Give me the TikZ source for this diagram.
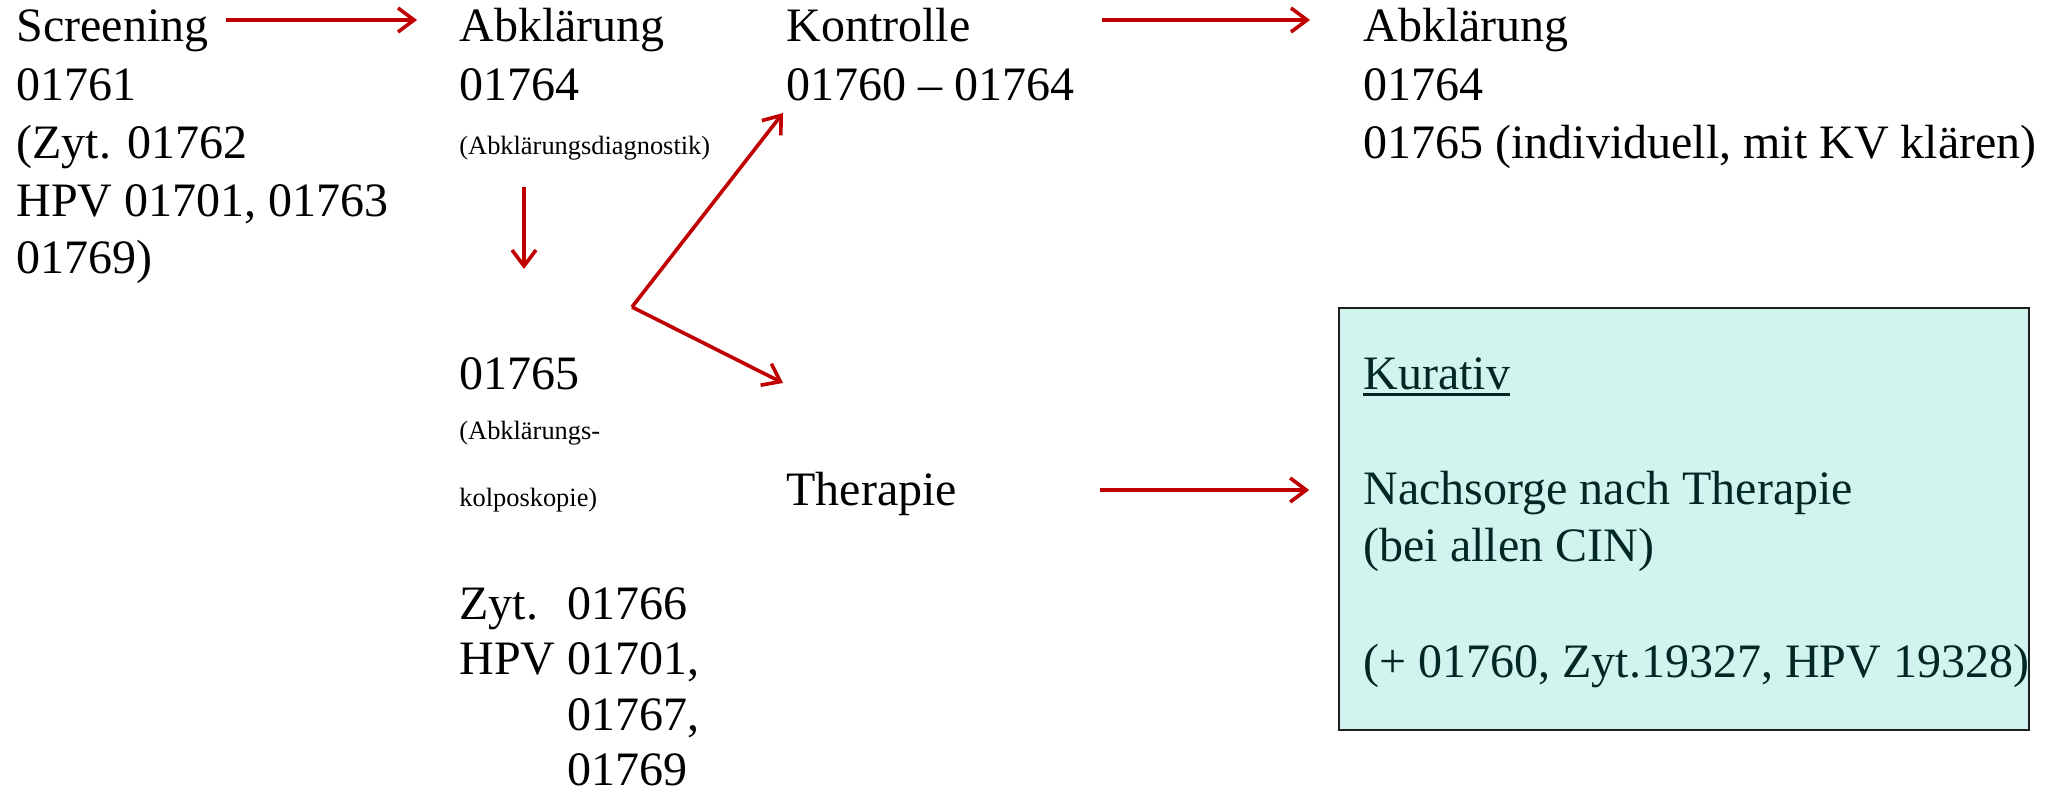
\documentclass[tikz,border=0pt]{standalone}
\usepackage{fontspec}
\setmainfont{Liberation Serif}
\usetikzlibrary{arrows.meta}
\definecolor{arrred}{RGB}{192,0,0}
\definecolor{boxfill}{RGB}{210,244,238}
\definecolor{boxtext}{RGB}{0,40,36}
\definecolor{boxline}{RGB}{30,30,30}
\newcommand{\codecol}[1]{\begin{tabular}[t]{@{}l@{}}#1\end{tabular}}
\newcommand{\kurline}[1]{\setbox0\hbox{#1}\rlap{\rule[-3.5pt]{\wd0}{1.3pt}}\box0}
\tikzset{
  txt/.style={anchor=base west, inner sep=0pt, font=\fontsize{24}{28.8}\selectfont},
  small/.style={anchor=base west, inner sep=0pt, font=\fontsize{13.2}{15.8}\selectfont},
  arr/.style={draw=arrred, line width=1.8pt, -{Straight Barb[length=8pt,width=12pt]}}
}

\begin{document}
\begin{tikzpicture}[x=0.5pt,y=-0.5pt]
\useasboundingbox (0,0) rectangle (2055,792);
% Screening
\node[txt] (scr) at (16,42) {Screening};
\node[txt] (scrc) at (16,101) {\codecol{01761\\(Zyt. 01762\\HPV 01701, 01763\\01769)}};
% Abklaerung
\node[txt] (abk) at (459,42) {Abklärung};
\node[txt] (abkc) at (459,101) {01764};
\node[small] (abkd) at (459,155) {(Abklärungsdiagnostik)};
\node[txt] (kol) at (459,389) {01765};
\node[small] (kold) at (459,439) {(Abklärungs-};
\node[small] (kole) at (459,506) {kolposkopie)};
\node[txt, font=\fontsize{24}{27.8}\selectfont] (kolc) at (459,619)
  {\begin{tabular}[t]{@{}l@{\ }l@{}}Zyt. & 01766\\HPV & 01701,\\ & 01767,\\ & 01769\end{tabular}};
% Kontrolle / Therapie
\node[txt] (kon) at (786,42) {Kontrolle};
\node[txt] (konc) at (786,101) {01760 -- 01764};
\node[txt] (ther) at (786,505) {Therapie};
% rechts
\node[txt] (abkr) at (1363,42) {Abklärung};
\node[txt] (abkrc) at (1363,101) {\codecol{01764\\01765 (individuell, mit KV klären)}};
\node[draw=boxline, fill=boxfill, line width=0.85pt, minimum width=345pt, minimum height=211pt, inner sep=0pt] (box) at (1684,519) {};
\node[txt, text=boxtext] (kur) at (1363,389)
  {\codecol{\kurline{Kurativ}\\ \\Nachsorge nach Therapie\\(bei allen CIN)\\ \\(+ 01760, Zyt.19327, HPV 19328)}};
% Pfeile
\coordinate (fork) at (632,307);
\coordinate (thstart) at ([shift={(143,-15)}]ther.base east);
\draw[arr] ([shift={(17,-22)}]scr.base east) -- ([shift={(-42,-22)}]abk.base west);
\draw[arr] ([shift={(131,-22)}]kon.base east) -- ([shift={(-53,-22)}]abkr.base west);
\draw[arr] ([shift={(65,32)}]abkd.base west) -- ([shift={(65,-120)}]kol.base west);
\draw[arr] (fork) -- ([shift={(-3,12)}]konc.base west);
\draw[arr] (fork) -- ([shift={(-3,-122)}]ther.base west);
\draw[arr, shorten >=14.5pt] (thstart) -- (thstart -| box.west);
\end{tikzpicture}
\end{document}
